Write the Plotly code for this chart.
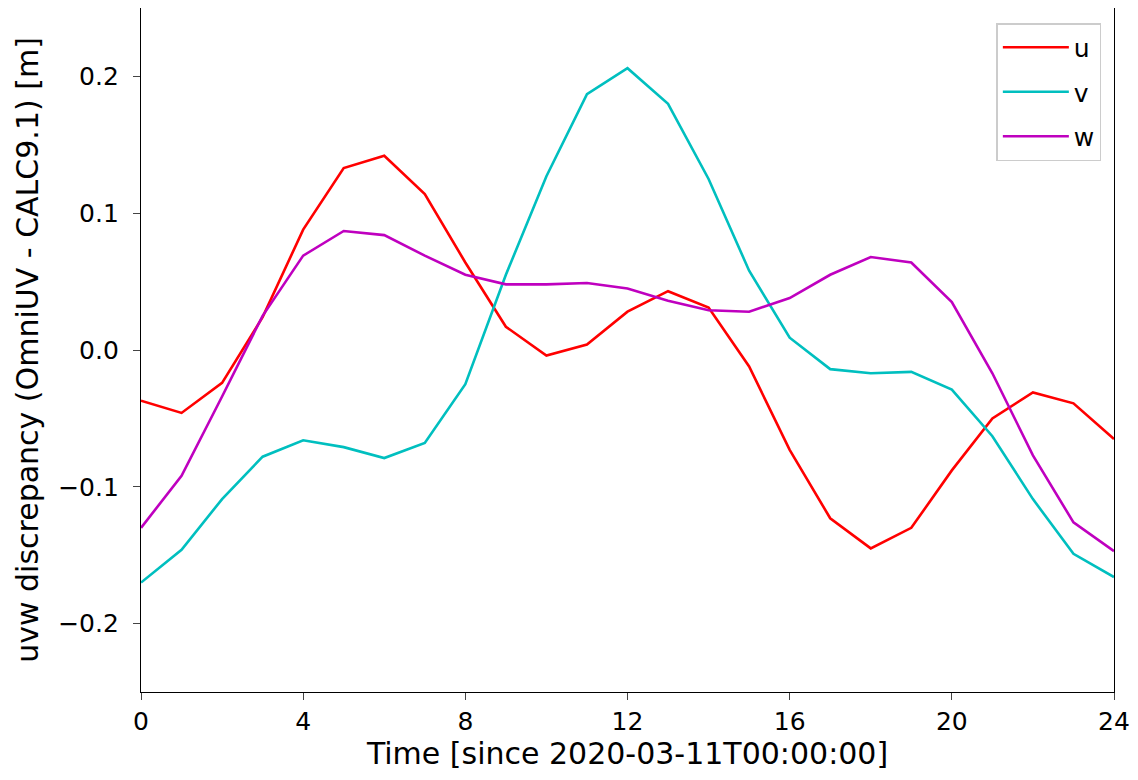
import plotly.graph_objects as go

hours = list(range(25))
u = [-0.037, -0.046, -0.024, 0.024, 0.088, 0.133, 0.142, 0.114, 0.064, 0.017,
     -0.004, 0.004, 0.028, 0.043, 0.031, -0.012, -0.073, -0.123, -0.145, -0.130,
     -0.088, -0.050, -0.031, -0.039, -0.065]
v = [-0.170, -0.146, -0.109, -0.078, -0.066, -0.071, -0.079, -0.068, -0.025, 0.055,
     0.127, 0.187, 0.206, 0.180, 0.125, 0.058, 0.009, -0.014, -0.017, -0.016,
     -0.029, -0.063, -0.109, -0.149, -0.166]
w = [-0.130, -0.092, -0.034, 0.025, 0.069, 0.087, 0.084, 0.069, 0.055, 0.048,
     0.048, 0.049, 0.045, 0.036, 0.029, 0.028, 0.038, 0.055, 0.068, 0.064,
     0.035, -0.017, -0.077, -0.126, -0.147]

series = [("u", u, "#ff0000"), ("v", v, "#00bfbf"), ("w", w, "#bf00bf")]
x_ticks = [0, 4, 8, 12, 16, 20, 24]
y_ticks = [-0.2, -0.1, 0.0, 0.1, 0.2]

fig = go.Figure()
for name, vals, col in series:
    fig.add_trace(go.Scatter(x=hours, y=vals, mode="lines", name=name,
                             legendgroup=name,
                             line=dict(color=col, width=2.6)))

font = "DejaVu Sans"
fig.update_layout(
    width=1138, height=780,
    margin=dict(l=133, r=32, t=0, b=96),
    paper_bgcolor="white", plot_bgcolor="white",
    font=dict(family=font, size=25, color="black"),
    showlegend=True,
    legend=dict(x=0.987, y=0.978, xanchor="right", yanchor="top",
                bgcolor="white", bordercolor="#cccccc", borderwidth=1.5,
                font=dict(size=25), itemwidth=66, tracegroupgap=9,
                entrywidth=60),
)
fig.update_xaxes(range=[0, 24], tickvals=x_ticks, ticks="outside", ticklen=7,
                 tickwidth=1.3, showline=True, linecolor="black", linewidth=1.3,
                 mirror=True, showgrid=False, zeroline=False,
                 title=dict(text="Time [since 2020-03-11T00:00:00]", standoff=6),
                 tickfont=dict(size=25))
fig.update_yaxes(range=[-0.25, 0.25], tickvals=y_ticks, tickformat=".1f",
                 ticks="outside", ticklen=7, tickwidth=1.3, showline=True,
                 linecolor="black", linewidth=1.3, mirror=True, showgrid=False,
                 zeroline=False, ticklabelstandoff=9,
                 title=dict(text="uvw discrepancy (OmniUV - CALC9.1) [m]", standoff=10),
                 tickfont=dict(size=25))

fig.write_html("out.html")
